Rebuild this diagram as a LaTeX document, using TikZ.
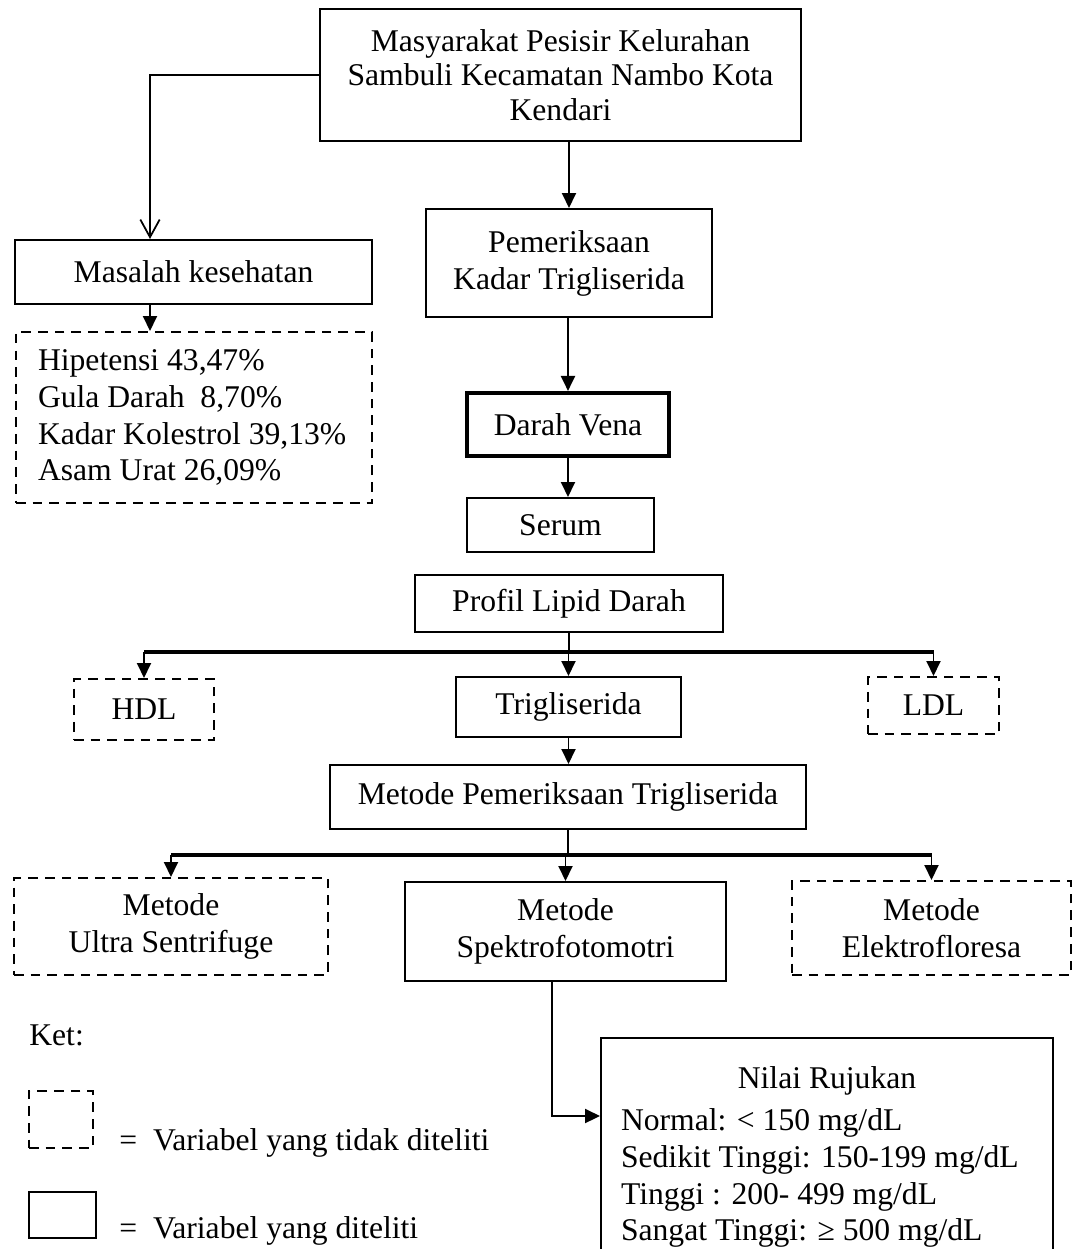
\documentclass[tikz,border=0pt]{standalone}
\usepackage{fontspec}
\setmainfont{Liberation Serif}
\usetikzlibrary{arrows.meta}
\setlength{\parindent}{0pt}

\begin{document}
\begin{tikzpicture}[x=0.02cm,y=-0.02cm,
    txt/.style={font=\fontsize{18}{21}\selectfont},
    box/.style={txt, draw, line width=1.2pt, align=center, inner sep=0pt},
    dbox/.style={box, dash pattern=on 5.5pt off 4pt},
    arr/.style={line width=1pt, -{Triangle[length=8.5pt,width=8pt]}},
    bar/.style={line width=2.2pt}]
    \useasboundingbox (0,0) rectangle (1073,1249);

    % Boxes:
    \node[box, minimum width=9.62cm, minimum height=2.64cm, font=\fontsize{18}{19.5}\selectfont] (top) at (560.5,75)
        {Masyarakat Pesisir Kelurahan\\Sambuli Kecamatan Nambo Kota\\Kendari};
    \node[box, minimum width=5.72cm, minimum height=2.16cm] (peme) at (569,263) {Pemeriksaan\\Kadar Trigliserida};
    \node[box, minimum width=7.14cm, minimum height=1.28cm] (masalah) at (193.5,272) {Masalah kesehatan};
    \node[dbox, align=flush left, text width=6.24cm, inner xsep=0.44cm, minimum height=3.42cm] (masalahlist) at (194,417.5)
        {Hipetensi 43,47\%\\Gula Darah\ \ 8,70\%\\Kadar Kolestrol 39,13\%\\Asam Urat 26,09\%};
    \node[box, line width=2.4pt, minimum width=4.04cm, minimum height=1.26cm] (darah) at (568,424.5) {Darah Vena};
    \node[box, minimum width=3.74cm, minimum height=1.08cm] (serum) at (560.5,525) {Serum};
    \node[box, minimum width=6.16cm, minimum height=1.14cm] (profil) at (569,603.5) {Profil Lipid Darah};
    \node[dbox, minimum width=2.8cm, minimum height=1.22cm] (hdl) at (144,709.5) {HDL};
    \node[box, minimum width=4.5cm, minimum height=1.2cm] (trig) at (568.5,707) {Trigliserida};
    \node[dbox, minimum width=2.62cm, minimum height=1.14cm] (ldl) at (933.5,705.5) {LDL};
    \node[box, minimum width=9.52cm, minimum height=1.28cm] (metode) at (568,797) {Metode Pemeriksaan Trigliserida};
    \node[dbox, minimum width=6.28cm, minimum height=1.94cm] (ultra) at (171,926.5) {Metode\\Ultra Sentrifuge};
    \node[box, minimum width=6.42cm, minimum height=1.98cm] (spektro) at (565.5,931.5) {Metode\\Spektrofotomotri};
    \node[dbox, minimum width=5.58cm, minimum height=1.88cm] (elektro) at (931.5,928) {Metode\\Elektrofloresa};
    \node[box, anchor=north, align=flush left, text width=8.24cm, inner xsep=0.4cm, inner ysep=16pt] (nilai) at (827,1037)
        {{\centering Nilai Rujukan\par}\vspace{3pt}Normal: < 150 mg/dL\\Sedikit Tinggi: 150-199 mg/dL\\Tinggi : 200- 499 mg/dL\\Sangat Tinggi: ≥ 500 mg/dL};

    % Ket:
    \node[txt, anchor=base west, inner sep=0pt] (ket) at (29,1045) {Ket:};
    \node[dbox, minimum width=1.28cm, minimum height=1.14cm] (ketdash) at (61,1119.5) {};
    \node[box, minimum width=1.34cm, minimum height=0.92cm] (ketsolid) at (62.5,1215) {};
    \node[txt, anchor=base west, inner sep=0pt] (ketdashtext) at (119,1150) {=\ \ Variabel yang tidak diteliti};
    \node[txt, anchor=base west, inner sep=0pt] (ketsolidtext) at (119,1238) {=\ \ Variabel yang diteliti};

    % Connectors:
    \coordinate (m1) at (150,0);
    \draw[line width=1pt, -{Straight Barb[length=10pt,width=11pt]}] (top.west) -| (m1 |- masalah.north);
    \draw[arr] (m1 |- masalah.south) -- (m1 |- masalahlist.north);
    \draw[arr] (peme.north |- top.south) -- (peme.north);
    \draw[arr] (darah.north |- peme.south) -- (darah.north);
    \draw[arr] (darah.south) -- (darah.south |- serum.north);

    %first branch
    \coordinate (b1) at (0,652);
    \draw[line width=0.8pt] (profil.south) -- (profil.south |- b1);
    \draw[bar] (hdl.north |- b1) -- (ldl.north |- b1);
    \foreach \n in {hdl,trig,ldl}
        \draw[arr] (\n.north |- b1) -- (\n.north);
    \draw[arr] (trig.south) -- (trig.south |- metode.north);

    %second branch
    \coordinate (b2) at (0,855);
    \draw[line width=0.8pt] (metode.south) -- (metode.south |- b2);
    \draw[bar] (ultra.north |- b2) -- (elektro.north |- b2);
    \foreach \n in {ultra,spektro,elektro}
        \draw[arr] (\n.north |- b2) -- (\n.north);

    \coordinate (n1) at (552,1116);
    \draw[arr] (n1 |- spektro.south) -- (n1) -- (n1 -| nilai.west);
\end{tikzpicture}
\end{document}
